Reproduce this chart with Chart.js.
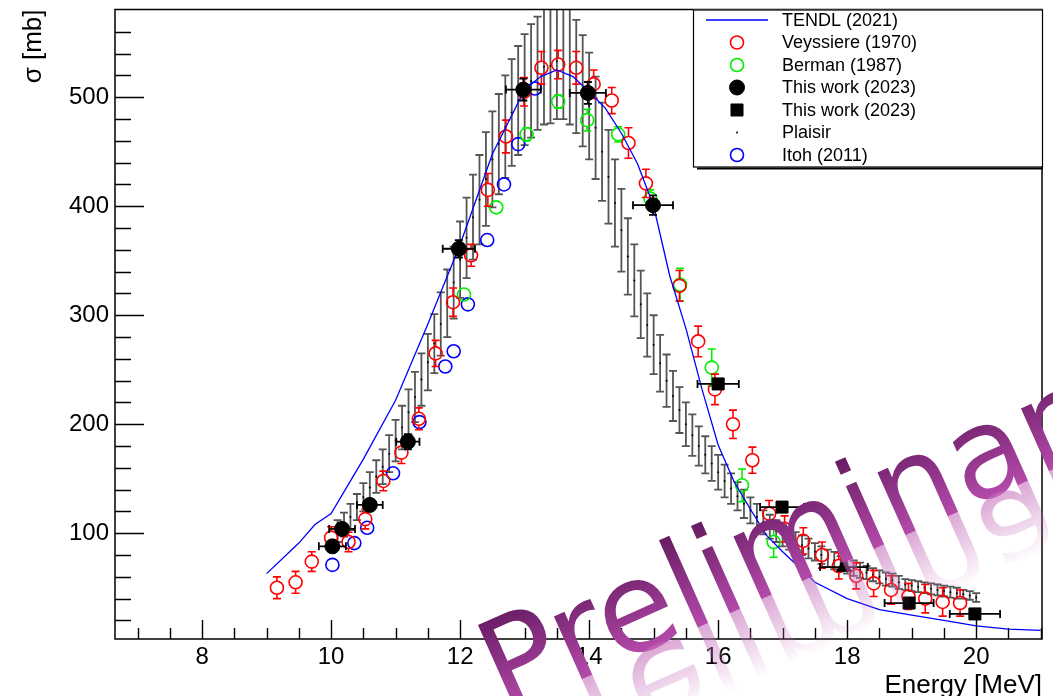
<!DOCTYPE html>
<html>
<head>
<meta charset="utf-8">
<script src="https://cdn.jsdelivr.net/npm/chart.js@4.4.1/dist/chart.umd.min.js"></script>
<style>
  html, body { margin: 0; padding: 0; background: #fff; }
  #wrap { width: 1053px; height: 696px; position: relative; }
</style>
</head>
<body>
<div id="wrap"><canvas id="xsChart"></canvas></div>
<script>
// --- TENDL (2021) evaluation ---
const tendlE  = [9.0, 9.5, 9.75, 10.0, 10.5, 11.0, 11.5, 12.0, 12.5, 13.0, 13.25, 13.5, 13.75, 14.0, 14.25, 14.5, 14.75,
                 15.0, 15.25, 15.5, 15.75, 16.0, 16.25, 16.5, 16.75, 17.0, 17.5, 18.0, 18.5, 19.0, 19.5, 20.0, 20.5, 21.0];
const tendlXS = [63, 91, 108, 118, 168, 222, 292, 365, 448, 507, 519, 525, 519, 505, 490, 467, 439,
                 400, 336, 288, 232, 181, 147, 122, 98, 83, 55, 40, 30, 25, 20, 15, 12, 11];

// --- Veyssiere (1970) ---
const veyE   = [9.16, 9.45, 9.70, 10.00, 10.27, 10.53, 10.81, 11.09, 11.36, 11.62, 11.89, 12.17, 12.43, 12.71, 12.99,
                13.26, 13.52, 13.80, 14.07, 14.35, 14.61, 14.88, 15.40, 15.69, 15.95, 16.23, 16.53, 16.79, 17.03,
                17.32, 17.61, 17.87, 18.14, 18.41, 18.68, 18.95, 19.21, 19.48, 19.75];
const veyXS  = [50, 55, 74, 96, 92, 113, 148, 174, 205, 265, 312, 355, 415, 464, 505,
                527, 530, 527, 512, 497, 458, 421, 327, 276, 232, 200, 167, 118, 104,
                93, 80, 70, 61, 54, 48, 42, 40, 37, 36];
const veyErr = [10, 10, 9, 10, 9, 9, 9, 10, 10, 12, 13, 10, 15, 15, 13,
                15, 13, 15, 13, 12, 14, 13, 14, 14, 14, 13, 12, 12, 12,
                12, 12, 12, 12, 12, 13, 12, 13, 13, 12];

// --- Berman (1987) ---
const bermE   = [12.06, 12.56, 13.03, 13.52, 13.97, 14.45, 14.95, 15.41, 15.90, 16.37, 16.86];
const bermXS  = [319, 399, 466, 496, 479, 466, 407, 328, 252, 144, 92];
const bermErr = [5, 5, 6, 6, 10, 7, 8, 15, 17, 15, 14];

// --- This work (2023), circles ---
const twE    = [10.02, 10.17, 10.60, 11.19, 11.98, 12.98, 13.98, 14.99];
const twXS   = [88, 104, 126, 184, 361, 507, 504, 401];
const twXErr = [0.21, 0.20, 0.20, 0.18, 0.25, 0.27, 0.28, 0.31];
const twYErr = [6, 6, 6, 7, 8, 10, 10, 9];

// --- This work (2023), squares ---
const sqE     = [16.00, 16.99, 17.95, 18.96, 19.98];
const sqXS    = [237, 124, 69, 36, 26];
const sqXErr  = [0.32, 0.34, 0.37, 0.38, 0.39];
const sqStyle = ['rect', 'rect', 'triangle', 'rect', 'rect'];

// --- Plaisir ---
const plE = [10.1, 10.2, 10.3, 10.4, 10.5, 10.6, 10.7, 10.8, 10.9, 11.0,
             11.1, 11.2, 11.3, 11.4, 11.5, 11.6, 11.7, 11.8, 11.9, 12.0,
             12.1, 12.2, 12.3, 12.4, 12.5, 12.6, 12.7, 12.8, 12.9, 13.0,
             13.1, 13.2, 13.3, 13.4, 13.5, 13.6, 13.7, 13.8, 13.9, 14.0,
             14.1, 14.2, 14.3, 14.4, 14.5, 14.6, 14.7, 14.8, 14.9, 15.0,
             15.1, 15.2, 15.3, 15.4, 15.5, 15.6, 15.7, 15.8, 15.9, 16.0,
             16.1, 16.2, 16.3, 16.4, 16.5, 16.6, 16.7, 16.8, 16.9, 17.0,
             17.1, 17.2, 17.3, 17.4, 17.5, 17.6, 17.7, 17.8, 17.9, 18.0,
             18.1, 18.2, 18.3, 18.4, 18.5, 18.6, 18.7, 18.8, 18.9, 19.0,
             19.1, 19.2, 19.3, 19.4, 19.5, 19.6, 19.7, 19.8, 19.9, 20.0];
const plXS = [102, 108, 115, 124, 133, 142, 152, 161, 173, 185,
              197, 211, 225, 241, 257, 274, 292, 311, 330, 351,
              371, 390, 406, 425, 443, 457, 473, 486, 497, 507,
              515, 522, 528, 529, 533, 533, 528, 519, 506, 492,
              472, 450, 427, 403, 378, 354, 332, 310, 291, 273,
              256, 240, 226, 213, 200, 190, 180, 172, 164, 156,
              148, 141, 134, 127, 121, 115, 110, 106, 102, 98,
              95, 92, 89, 86, 83, 80, 77, 75, 72, 70,
              68, 66, 64, 62, 60, 58, 57, 55, 53, 52,
              51, 50, 49, 48, 47, 46, 45, 44, 43, 41];
const plErr = [10, 11, 12, 12, 13, 14, 15, 16, 17, 19,
               20, 21, 23, 24, 26, 27, 29, 31, 33, 35,
               37, 39, 41, 43, 44, 46, 47, 49, 50, 51,
               52, 52, 53, 53, 53, 53, 53, 52, 51, 49,
               47, 45, 43, 40, 38, 35, 33, 31, 29, 27,
               26, 24, 23, 21, 20, 19, 18, 17, 16, 16,
               15, 14, 13, 13, 12, 12, 11, 11, 10, 10,
               10, 9, 9, 9, 8, 8, 8, 8, 7, 7,
               7, 7, 6, 6, 6, 6, 6, 6, 5, 5,
               5, 5, 5, 5, 5, 5, 5, 4, 4, 4];

// --- Itoh (2011) ---
const itohE  = [10.02, 10.36, 10.56, 10.96, 11.37, 11.77, 11.90, 12.12, 12.42, 12.68, 12.90, 13.16];
const itohXS = [71, 91, 105, 155, 202, 253, 267, 310, 369, 420, 457, 508];

// axis ranges / ticks
const xRange = [6.65, 21.02];
const yRange = [3, 580.5];
const xMajorStep = 2, xMinorStep = 0.5;
const yMajorStep = 100, yMinorStep = 20;

const FONT = '"Liberation Sans", Arial, Helvetica, sans-serif';

function pts(xs, ys) {
    return xs.map((x, i) => ({ x: x, y: ys[i] }));
}

// --- Error bars (drawn under each dataset's markers) ---
const errorBars = {
    id: 'errorBars',
    beforeDatasetDraw(chart, args) {
        const ds = chart.data.datasets[args.index];
        if (!ds.yErr && !ds.xErr) return;
        const { ctx, chartArea: a, scales: { x, y } } = chart;
        const gap = ds.errGap || 0;
        const cap = ds.capSize || 4;
        ctx.save();
        ctx.beginPath();
        ctx.rect(a.left, a.top, a.right - a.left, a.bottom - a.top);
        ctx.clip();
        ctx.strokeStyle = ds.errColor || '#000';
        ctx.lineWidth = ds.errWidth || 1.5;
        ctx.beginPath();
        ds.data.forEach((p, i) => {
            const px = x.getPixelForValue(p.x);
            const py = y.getPixelForValue(p.y);
            if (ds.yErr) {
                const top = y.getPixelForValue(p.y + ds.yErr[i]);
                const bot = y.getPixelForValue(p.y - ds.yErr[i]);
                if (py - top > gap) {
                    ctx.moveTo(px, py - gap); ctx.lineTo(px, top);
                    ctx.moveTo(px - cap, top); ctx.lineTo(px + cap, top);
                    ctx.moveTo(px, py + gap); ctx.lineTo(px, bot);
                    ctx.moveTo(px - cap, bot); ctx.lineTo(px + cap, bot);
                }
            }
            if (ds.xErr) {
                const lft = x.getPixelForValue(p.x - ds.xErr[i]);
                const rgt = x.getPixelForValue(p.x + ds.xErr[i]);
                ctx.moveTo(lft, py); ctx.lineTo(rgt, py);
                ctx.moveTo(lft, py - cap); ctx.lineTo(lft, py + cap);
                ctx.moveTo(rgt, py - cap); ctx.lineTo(rgt, py + cap);
            }
        });
        ctx.stroke();
        ctx.restore();
    }
};

// --- ROOT style frame, inward ticks, titles, legend, watermark ---
function drawMarker(ctx, ds, px, py, idx) {
    const style = Array.isArray(ds.pointStyle) ? ds.pointStyle[idx] : (ds.pointStyle || 'circle');
    const r = ds.pointRadius;
    ctx.save();
    ctx.fillStyle = ds.backgroundColor;
    ctx.strokeStyle = ds.borderColor;
    ctx.lineWidth = ds.borderWidth;
    ctx.beginPath();
    if (style === 'rect') {
        const s = r * Math.SQRT1_2;
        ctx.rect(px - s, py - s, 2 * s, 2 * s);
    } else {
        ctx.arc(px, py, r, 0, Math.PI * 2);
    }
    ctx.fill();
    if (ds.borderWidth) ctx.stroke();
    ctx.restore();
}

const rootStyle = {
    id: 'rootStyle',
    afterDraw(chart) {
        const { ctx, chartArea: a, scales: { x, y } } = chart;
        ctx.save();

        // frame
        ctx.strokeStyle = '#000';
        ctx.lineWidth = 1.5;
        ctx.strokeRect(a.left, a.top, a.right - a.left, a.bottom - a.top);

        // ticks pointing inwards
        ctx.lineWidth = 1.4;
        ctx.beginPath();
        for (let k = Math.ceil(xRange[0] / xMinorStep); k * xMinorStep < xRange[1]; k++) {
            const v = k * xMinorStep;
            const px = Math.round(x.getPixelForValue(v)) + 0.5;
            const len = (Math.abs(v / xMajorStep - Math.round(v / xMajorStep)) < 1e-6) ? 19 : 11;
            ctx.moveTo(px, a.bottom);
            ctx.lineTo(px, a.bottom - len);
        }
        for (let k = 1; k * yMinorStep < yRange[1] - 5; k++) {
            const v = k * yMinorStep;
            const py = Math.round(y.getPixelForValue(v)) + 0.5;
            const len = (v % yMajorStep === 0) ? 29 : 16;
            ctx.moveTo(a.left, py);
            ctx.lineTo(a.left + len, py);
        }
        ctx.stroke();

        // axis titles
        ctx.fillStyle = '#000';
        ctx.font = '26px ' + FONT;
        ctx.textAlign = 'right';
        ctx.textBaseline = 'alphabetic';
        ctx.fillText('Energy [MeV]', a.right, 693);
        ctx.save();
        ctx.translate(41, a.top);
        ctx.rotate(-Math.PI / 2);
        ctx.fillText('σ [mb]', 0, 0);
        ctx.restore();

        // legend box
        const lx = 693, ly = a.top, lw = a.right - 693, lh = 157;
        ctx.fillStyle = '#fff';
        ctx.fillRect(lx, ly, lw, lh);
        ctx.lineWidth = 1.2;
        ctx.strokeRect(lx + 0.5, ly + 0.5, lw, lh);
        ctx.lineWidth = 2;
        ctx.beginPath();
        ctx.moveTo(lx + 4, ly + lh + 2); ctx.lineTo(lx + lw + 1, ly + lh + 2);
        ctx.stroke();

        ctx.font = '18px ' + FONT;
        ctx.textAlign = 'left';
        ctx.textBaseline = 'middle';
        chart.data.datasets.forEach((ds, i) => {
            const ry = ly + 10.5 + i * 22.5;
            if (ds.showLine) {
                ctx.strokeStyle = ds.borderColor;
                ctx.lineWidth = ds.borderWidth;
                ctx.beginPath();
                ctx.moveTo(706, ry); ctx.lineTo(768, ry);
                ctx.stroke();
            } else {
                drawMarker(ctx, ds, 737, ry, 0);
            }
            ctx.fillStyle = '#000';
            ctx.fillText(ds.label, 782, ry + 1);
        });

        // "Preliminary" watermark with its fading reflection
        ctx.save();
        ctx.beginPath();
        ctx.rect(0, 0, chart.width, chart.height);
        ctx.clip();
        ctx.translate(504, 714);
        ctx.rotate(-24 * Math.PI / 180);
        ctx.font = '126px "DejaVu Sans", sans-serif';
        ctx.textAlign = 'left';
        ctx.textBaseline = 'alphabetic';
        const g = ctx.createLinearGradient(0, -96, 0, 0);
        g.addColorStop(0, 'rgb(104,28,100)');
        g.addColorStop(1, 'rgb(180,74,170)');
        ctx.fillStyle = g;
        ctx.fillText('Preliminary', 0, 0);
        ctx.scale(1, -1);
        const rg = ctx.createLinearGradient(0, 0, 0, -72);
        rg.addColorStop(0, 'rgba(196,110,186,0.6)');
        rg.addColorStop(1, 'rgba(196,110,186,0)');
        ctx.fillStyle = rg;
        ctx.fillText('Preliminary', 0, 0);
        ctx.restore();

        ctx.restore();
    }
};

const datasets = [
    {
        label: 'TENDL (2021)', data: pts(tendlE, tendlXS), showLine: true, tension: 0,
        borderColor: '#0000ff', backgroundColor: '#0000ff', borderWidth: 1.3, pointRadius: 0, order: 2
    },
    {
        label: 'Veyssiere (1970)', data: pts(veyE, veyXS), yErr: veyErr, errColor: '#ff0000', errWidth: 1.6,
        errGap: 6.5, capSize: 4, pointStyle: 'circle', pointRadius: 6.5,
        borderColor: '#ff0000', backgroundColor: 'rgba(0,0,0,0)', borderWidth: 1.6, order: 3
    },
    {
        label: 'Berman (1987)', data: pts(bermE, bermXS), yErr: bermErr, errColor: '#00ee00', errWidth: 1.6,
        errGap: 6.5, capSize: 4, pointStyle: 'circle', pointRadius: 6.5,
        borderColor: '#00ee00', backgroundColor: 'rgba(0,0,0,0)', borderWidth: 1.6, order: 4
    },
    {
        label: 'This work (2023)', data: pts(twE, twXS), xErr: twXErr, yErr: twYErr, errColor: '#000', errWidth: 1.8,
        errGap: 7.5, capSize: 4, pointStyle: 'circle', pointRadius: 7.5,
        borderColor: '#000', backgroundColor: '#000', borderWidth: 1, order: 0
    },
    {
        label: 'This work (2023)', data: pts(sqE, sqXS), xErr: sqXErr, errColor: '#000', errWidth: 1.8,
        capSize: 4, pointStyle: sqStyle, pointRadius: 8.5,
        borderColor: '#000', backgroundColor: '#000', borderWidth: 1, order: 0
    },
    {
        label: 'Plaisir', data: pts(plE, plXS), yErr: plErr, errColor: '#555555', errWidth: 1.8,
        errGap: 0, capSize: 4, pointStyle: 'circle', pointRadius: 1,
        borderColor: '#000', backgroundColor: '#000', borderWidth: 0, order: 6
    },
    {
        label: 'Itoh (2011)', data: pts(itohE, itohXS), pointStyle: 'circle', pointRadius: 6.5,
        borderColor: '#0000ff', backgroundColor: 'rgba(0,0,0,0)', borderWidth: 1.6, order: 5
    }
];

new Chart(document.getElementById('xsChart'), {
    type: 'scatter',
    data: { datasets: datasets },
    options: {
        responsive: true,
        maintainAspectRatio: false,
        animation: false,
        events: [],
        layout: { padding: { top: 8, right: 11, left: 0, bottom: 0 } },
        plugins: { legend: { display: false }, tooltip: { enabled: false } },
        scales: {
            x: {
                type: 'linear', min: xRange[0], max: xRange[1],
                grid: { display: false, drawTicks: false },
                border: { display: false },
                ticks: { stepSize: xMajorStep, includeBounds: false, padding: 4, color: '#000', font: { family: FONT, size: 24 } },
                afterFit(scale) { scale.height = 57; scale.paddingLeft = 0; scale.paddingRight = 0; }
            },
            y: {
                type: 'linear', min: yRange[0], max: yRange[1],
                grid: { display: false, drawTicks: false },
                border: { display: false },
                ticks: { stepSize: yMajorStep, includeBounds: false, padding: 6, color: '#000', font: { family: FONT, size: 24 } },
                afterFit(scale) { scale.width = 115; scale.paddingTop = 0; scale.paddingBottom = 0; }
            }
        }
    },
    plugins: [errorBars, rootStyle]
});
</script>
</body>
</html>
